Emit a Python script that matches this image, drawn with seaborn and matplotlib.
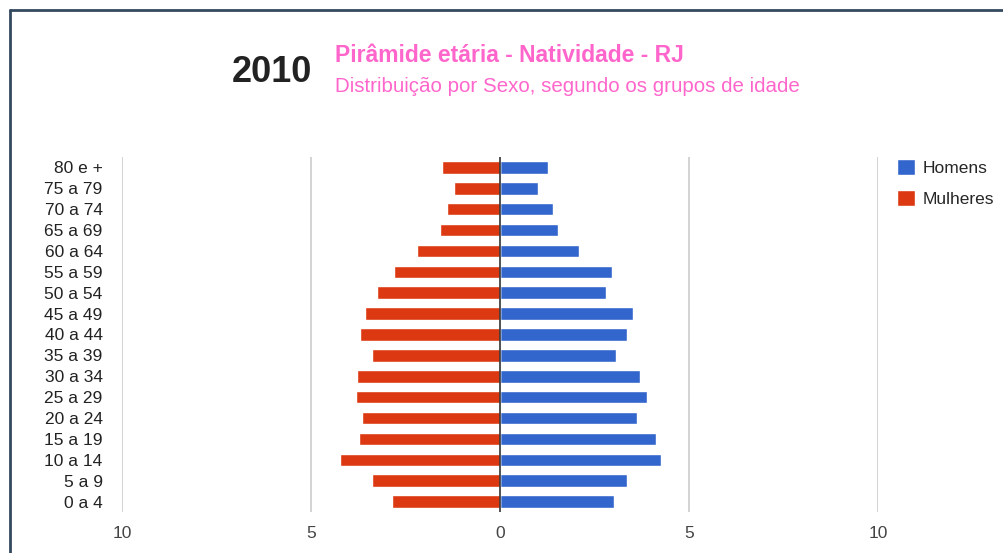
import numpy as np
import pandas as pd
import matplotlib
matplotlib.use("Agg")
import matplotlib.pyplot as plt
from matplotlib.lines import Line2D
import seaborn as sns

# Data (percent of population)
idades = ['80 e +', '75 a 79', '70 a 74', '65 a 69', '60 a 64', '55 a 59',
          '50 a 54', '45 a 49', '40 a 44', '35 a 39', '30 a 34', '25 a 29',
          '20 a 24', '15 a 19', '10 a 14', '5 a 9', '0 a 4']
homens = [1.26, 1.00, 1.41, 1.53, 2.09, 2.95, 2.80, 3.53, 3.37, 3.07,
          3.70, 3.90, 3.63, 4.12, 4.27, 3.37, 3.02]
mulheres = [1.54, 1.21, 1.40, 1.59, 2.19, 2.80, 3.25, 3.58, 3.70, 3.39,
            3.77, 3.81, 3.66, 3.73, 4.22, 3.39, 2.87]
xticks = [-10, -5, 0, 5, 10]

df = pd.DataFrame({
    'idade': idades * 2,
    'valor': homens + [-v for v in mulheres],
    'sexo': ['Homens'] * len(idades) + ['Mulheres'] * len(idades),
})

sns.set_style("white")
plt.rcParams['font.family'] = ['Liberation Sans', 'DejaVu Sans']

fig = plt.figure(figsize=(10.04, 5.53), dpi=100)
W, H = 1004, 553
ax = fig.add_axes([122 / W, (H - 512) / H, (878 - 122) / W, (512 - 157) / H])

sns.barplot(data=df, y='idade', x='valor', hue='sexo', order=idades,
            hue_order=['Homens', 'Mulheres'], dodge=False, width=0.6,
            palette={'Homens': '#3366cc', 'Mulheres': '#dc3912'},
            saturation=1, orient='h', ax=ax, zorder=3)

ax.set_xlim(-10, 10)
ax.set_ylim(len(idades) - 0.5, -0.5)
ax.set_xticks(xticks)
ax.set_xticklabels([str(abs(t)) for t in xticks], fontsize=12.5, color='#444444')
for t in xticks:
    if t != 0:
        ax.axvline(t, color='#cccccc', lw=1.2, zorder=1)
ax.axvline(0, color='#333333', lw=1.2, zorder=4)
ax.tick_params(axis='y', labelsize=12.5, colors='#222222', length=0, pad=14)
ax.tick_params(axis='x', length=0, pad=10)
ax.set_xlabel('')
ax.set_ylabel('')
sns.despine(ax=ax, left=True, bottom=True)

handles, labels = ax.get_legend_handles_labels()
ax.legend(handles, labels, loc='upper left', bbox_to_anchor=(897 / W, (H - 159) / H),
          bbox_transform=fig.transFigure, frameon=False, fontsize=12.5,
          handlelength=1.05, handleheight=1.05, handletextpad=0.45,
          labelspacing=0.8, borderaxespad=0, borderpad=0)

# titles
fig.text(312 / W, 1 - 72 / H, '2010', fontsize=26, fontweight='bold',
         color='#222222', ha='right', va='center')
fig.text(335 / W, 1 - 55 / H, 'Pirâmide etária - Natividade - RJ', fontsize=16.5,
         fontweight='bold', color='#ff66cc', ha='left', va='center')
fig.text(335 / W, 1 - 86 / H, 'Distribuição por Sexo, segundo os grupos de idade',
         fontsize=14.8, color='#ff66cc', ha='left', va='center')

# frame
fig.add_artist(Line2D([10 / W, 1], [1 - 9.5 / H, 1 - 9.5 / H],
                      color='#34495e', lw=2, transform=fig.transFigure))
fig.add_artist(Line2D([10.5 / W, 10.5 / W], [0, 1 - 9.5 / H],
                      color='#34495e', lw=2, transform=fig.transFigure))

fig.savefig('out.png', dpi=100)
